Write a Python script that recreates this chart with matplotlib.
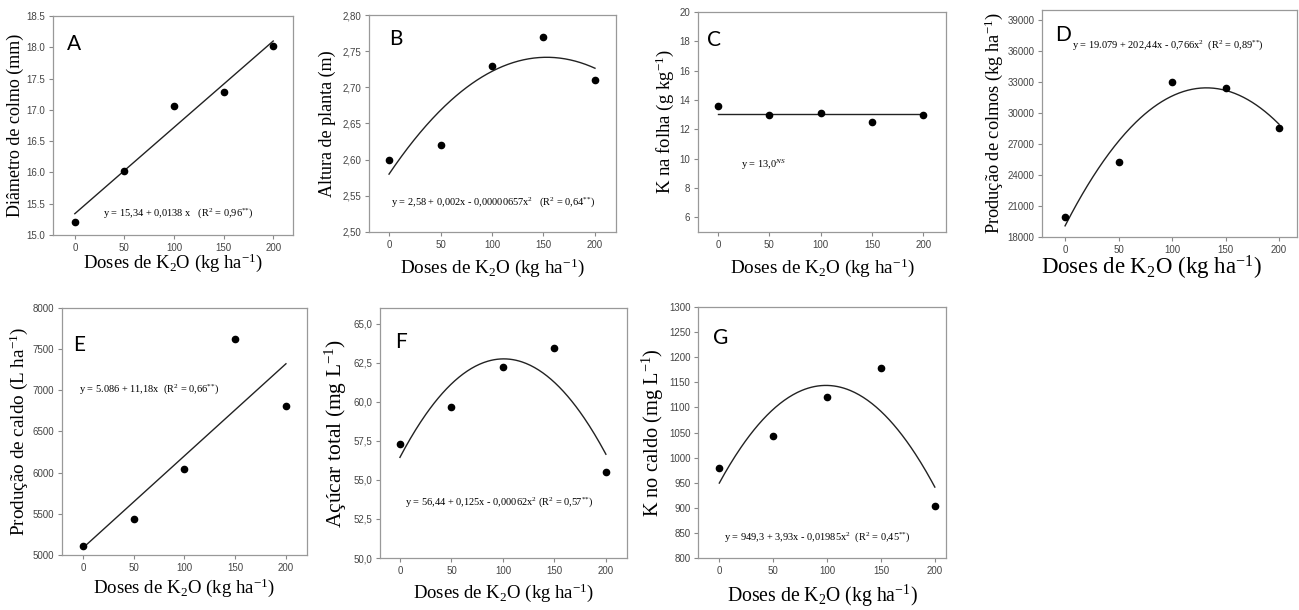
import numpy as np
import matplotlib
matplotlib.use('Agg')
import matplotlib.pyplot as plt
from matplotlib.ticker import FuncFormatter

plt.rcParams['font.family'] = 'Liberation Sans'
plt.rcParams['mathtext.fontset'] = 'custom'
plt.rcParams['mathtext.rm'] = 'Liberation Serif'
plt.rcParams['mathtext.it'] = 'Liberation Serif:italic'

# K2O doses (x axis, same in every panel)
doses = [0, 50, 100, 150, 200]

diametro = [15.20, 16.03, 17.06, 17.29, 18.02]
altura = [2.60, 2.62, 2.73, 2.77, 2.71]
k_folha = [13.56, 13.0, 13.09, 12.53, 13.0]
prod_colmos = [19900, 25300, 33000, 32450, 28600]
prod_caldo = [5110, 5442, 6050, 7620, 6813]
acucar = [57.3, 59.64, 62.19, 63.43, 55.49]
k_caldo = [980, 1044, 1121, 1178, 903]

# regression coefficients (a + b x + c x^2) as given in the panels
fit_diametro = [15.34, 0.0138, 0.0]
fit_altura = [2.58, 0.00211, -0.00000689]
fit_k_folha = [13.02, 0.0, 0.0]
fit_colmos = [19079, 202.44, -0.766]
fit_caldo = [5086, 11.18, 0.0]
fit_acucar = [56.44, 0.125, -0.00062]
fit_k_caldo = [949.3, 3.93, -0.01985]

xlabel = 'Doses de K$_2$O (kg ha$^{-1}$)'
serif = 'Liberation Serif'
ss = '$^{{*}{*}}$'

fig = plt.figure(figsize=(12.99, 6.10), dpi=100)

# one entry per panel: letter, y data, fit, ylabel, ylim, yticks, tick format,
# equation text and where it goes, axes rect, letter pos, ylabel x, xlabel (x, y),
# xlim, ylabel size, xlabel size
panels = [
    ('A', diametro, fit_diametro, 'Diâmetro de colmo (mm)', (15, 18.5), np.arange(15, 18.51, 0.5), '{:.1f}',
     'y = 15,34 + 0,0138 x   (R$^2$ = 0,96' + ss + ')', (104, 15.35),
     [0.0408, 0.6148, 0.1848, 0.359], (0.06, 0.92), -0.158, (0.5, -0.125), (-22, 220), 13, 13.4),
    ('B', altura, fit_altura, 'Altura de planta (m)', (2.5, 2.8), np.arange(2.5, 2.801, 0.05), '{:.2f}',
     'y = 2,58 + 0,002x - 0,00000657x$^2$   (R$^2$ = 0,64' + ss + ')', (101, 2.542),
     [0.2841, 0.6197, 0.1901, 0.3557], (0.08, 0.935), -0.17, (0.5, -0.163), (-19.4, 220.4), 13, 13.8),
    ('C', k_folha, fit_k_folha, 'K na folha (g kg$^{-1}$)', (5, 20), np.arange(6, 21, 2), '{:.0f}',
     'y = 13,0$^{NS}$', (44, 9.6),
     [0.5373, 0.6197, 0.1909, 0.3607], (0.036, 0.918), -0.133, (0.5, -0.161), (-19.5, 222), 13.5, 13.8),
    ('D', prod_colmos, fit_colmos, 'Produção de colmos (kg ha$^{-1}$)', (18000, 40000), np.arange(18000, 39001, 3000), '{:.0f}',
     'y = 19.079 + 202,44x - 0,766x$^2$  (R$^2$ = 0,89' + ss + ')', (96, 36600),
     [0.8022, 0.6115, 0.1963, 0.3721], (0.05, 0.934), -0.19, (0.43, -0.135), (-21.5, 216.8), 13.2, 16.5),
    ('E', prod_caldo, fit_caldo, 'Produção de caldo (L ha$^{-1}$)', (5000, 8000), np.arange(5000, 8001, 500), '{:.0f}',
     'y = 5.086 + 11,18x  (R$^2$ = 0,66' + ss + ')', (65, 7010),
     [0.0477, 0.0902, 0.1886, 0.405], (0.045, 0.89), -0.178, (0.5, -0.132), (-20.7, 220.7), 13.8, 13.6),
    ('F', acucar, fit_acucar, 'Açúcar total (mg L$^{-1}$)', (50, 66), np.arange(50, 65.01, 2.5), '{:.1f}',
     'y = 56,44 + 0,125x - 0,00062x$^2$ (R$^2$ = 0,57' + ss + ')', (97, 53.6),
     [0.2925, 0.0852, 0.1901, 0.41], (0.06, 0.904), -0.18, (0.5, -0.138), (-19.4, 220.4), 15.5, 13.5),
    ('G', k_caldo, fit_k_caldo, 'K no caldo (mg L$^{-1}$)', (800, 1300), np.arange(800, 1301, 50), '{:.0f}',
     'y = 949,3 + 3,93x - 0,01985x$^2$  (R$^2$ = 0,45' + ss + ')', (91, 842),
     [0.5373, 0.0852, 0.1909, 0.4115], (0.06, 0.916), -0.18, (0.5, -0.149), (-19.8, 210.3), 14.7, 14.2),
]

xs = np.linspace(0, 200, 200)

for (letter, ys, fit, ylab, ylim, yticks, fmt, eq, eqpos,
     rect, letpos, ylx, xlpos, xlim, ysize, xsize) in panels:
    ax = fig.add_axes(rect)
    a, b, c = fit
    ax.plot(xs, a + b * xs + c * xs ** 2, color='#222222', lw=1.0)
    ax.plot(doses, ys, 'o', color='black', markersize=4.5)

    ax.set_xlim(*xlim)
    ax.set_ylim(*ylim)
    ax.set_xticks(doses)
    ax.set_yticks(yticks)
    # decimal comma everywhere except panel A
    if letter == 'A':
        ax.yaxis.set_major_formatter(FuncFormatter(lambda v, p, f=fmt: f.format(v)))
    else:
        ax.yaxis.set_major_formatter(FuncFormatter(lambda v, p, f=fmt: f.format(v).replace('.', ',')))

    ax.tick_params(direction='out', length=3, width=0.8, color='#888888',
                   labelsize=7, labelcolor='#444444', pad=2.5)
    for s in ax.spines.values():
        s.set_color('#999999')
        s.set_linewidth(0.9)

    ax.set_xlabel(xlabel, fontsize=xsize, family=serif)
    ax.set_ylabel(ylab, fontsize=ysize, family=serif)
    ax.xaxis.set_label_coords(*xlpos)
    ax.xaxis.label.set_va('center')
    ax.yaxis.set_label_coords(ylx, 0.5)
    ax.yaxis.label.set_va('center')

    ax.text(letpos[0], letpos[1], letter, transform=ax.transAxes, fontsize=15,
            family='Lato', va='top', ha='left')
    ax.text(eqpos[0], eqpos[1], eq, fontsize=7.5, family=serif, ha='center', va='center')

plt.savefig('out.png', dpi=100)
